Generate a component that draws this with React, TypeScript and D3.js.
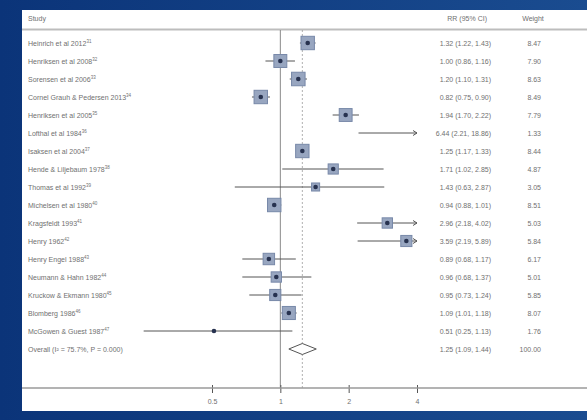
import React, { useEffect, useRef } from 'react';
import * as d3 from 'd3';

const studies = [
  'Heinrich et al 2012', 'Henriksen et al 2008', 'Sorensen et al 2006',
  'Cornel Grauh & Pedersen 2013', 'Henriksen et al 2005', 'Lofthal et al 1984',
  'Isaksen et al 2004', 'Hende & Liljebaum 1978', 'Thomas et al 1992',
  'Michelsen et al 1980', 'Kragsfeldt 1993', 'Henry 1962', 'Henry Engel 1988',
  'Neumann & Hahn 1982', 'Kruckow & Ekmann 1980', 'Blomberg 1986',
  'McGowen & Guest 1987',
];
const refs = ['31', '32', '33', '34', '35', '36', '37', '38', '39', '40', '41', '42', '43', '44', '45', '46', '47'];
const rr = [1.32, 1.0, 1.2, 0.82, 1.94, 6.44, 1.25, 1.71, 1.43, 0.94, 2.96, 3.59, 0.89, 0.96, 0.95, 1.09, 0.51];
const lower = [1.22, 0.86, 1.1, 0.75, 1.7, 2.21, 1.17, 1.02, 0.63, 0.88, 2.18, 2.19, 0.68, 0.68, 0.73, 1.01, 0.25];
const upper = [1.43, 1.16, 1.31, 0.9, 2.22, 18.86, 1.33, 2.85, 2.87, 1.01, 4.02, 5.89, 1.17, 1.37, 1.24, 1.18, 1.13];
const weights = [8.47, 7.9, 8.63, 8.49, 7.79, 1.33, 8.44, 4.87, 3.05, 8.51, 5.03, 5.84, 6.17, 5.01, 5.85, 8.07, 1.76];

const overallLabel = 'Overall (I\u00b2 = 75.7%, P = 0.000)';
const overall = { rr: 1.25, lower: 1.09, upper: 1.44 };
const ticks = [0.5, 1, 2, 4];

const W = 587;
const H = 420;

export default function App() {
  const ref = useRef<SVGSVGElement | null>(null);

  useEffect(() => {
    const svg = d3.select(ref.current);
    svg.selectAll('*').remove();

    const grad = svg.append('defs').append('linearGradient')
      .attr('id', 'bg').attr('x1', 0).attr('x2', 1).attr('y1', 0).attr('y2', 0);
    grad.append('stop').attr('offset', '0%').attr('stop-color', '#0b3479');
    grad.append('stop').attr('offset', '100%').attr('stop-color', '#1a4c90');
    svg.append('rect').attr('width', W).attr('height', H).attr('fill', 'url(#bg)');

    // white panel
    svg.append('rect').attr('x', 22).attr('y', 10).attr('width', W - 22).attr('height', 401).attr('fill', '#fff');

    const font = 'Liberation Sans, Arial, sans-serif';
    const txt = '#707070';
    const x = d3.scaleLog().domain([0.5, 4]).range([212, 417]);
    const rows = d3.range(studies.length + 1);
    const y = d3.scalePoint<number>().domain(rows).range([43, 349]);
    const size = d3.scaleSqrt().domain([0, 8.6]).range([0, 13.5]);
    const axisY = 388;
    const xMax = x.range()[1];

    // header
    const hdr = svg.append('g').attr('font-family', font).attr('font-size', 7).attr('fill', txt);
    hdr.append('text').attr('x', 28).attr('y', 21).text('Study');
    hdr.append('text').attr('x', 487).attr('y', 21).attr('text-anchor', 'end').text('RR (95% CI)');
    hdr.append('text').attr('x', 533).attr('y', 21).attr('text-anchor', 'middle').text('Weight');
    svg.append('line').attr('x1', 22).attr('x2', W).attr('y1', 29.5).attr('y2', 29.5)
      .attr('stroke', '#bdbdbd').attr('stroke-width', 2);

    // reference lines
    svg.append('line').attr('x1', x(1)).attr('x2', x(1)).attr('y1', 30).attr('y2', axisY)
      .attr('stroke', '#8a8a8a').attr('stroke-width', 1);
    svg.append('line').attr('x1', x(overall.rr)).attr('x2', x(overall.rr)).attr('y1', 30).attr('y2', axisY)
      .attr('stroke', '#9a9a9a').attr('stroke-width', 0.8).attr('stroke-dasharray', '2,2');

    // study rows
    const g = svg.append('g');
    studies.forEach((s, i) => {
      const yy = y(i) as number;
      const lab = g.append('text').attr('x', 28).attr('y', yy + 2.5)
        .attr('font-family', font).attr('font-size', 7).attr('fill', txt);
      lab.append('tspan').text(s);
      lab.append('tspan').attr('font-size', 4.5).attr('dy', -3).text(refs[i]);

      g.append('text').attr('x', 491).attr('y', yy + 2.5).attr('text-anchor', 'end')
        .attr('font-family', font).attr('font-size', 7).attr('fill', txt)
        .text(`${rr[i].toFixed(2)} (${lower[i].toFixed(2)}, ${upper[i].toFixed(2)})`);
      g.append('text').attr('x', 541).attr('y', yy + 2.5).attr('text-anchor', 'end')
        .attr('font-family', font).attr('font-size', 7).attr('fill', txt)
        .text(weights[i].toFixed(2));

      const x1 = x(lower[i]);
      const x2 = Math.min(x(upper[i]), xMax);
      g.append('line').attr('x1', x1).attr('x2', x2).attr('y1', yy).attr('y2', yy)
        .attr('stroke', '#555').attr('stroke-width', 1);
      if (upper[i] > 4) {
        g.append('path').attr('d', `M${xMax - 4},${yy - 2.5}L${xMax},${yy}L${xMax - 4},${yy + 2.5}`)
          .attr('fill', 'none').attr('stroke', '#555').attr('stroke-width', 1);
      }
      if (rr[i] <= 4) {
        const s2 = size(weights[i]);
        const cx = x(rr[i]);
        if (s2 > 7) {
          g.append('rect').attr('x', cx - s2 / 2).attr('y', yy - s2 / 2).attr('width', s2).attr('height', s2)
            .attr('fill', '#98a6c0').attr('stroke', '#7788a8').attr('stroke-width', 1);
        }
        g.append('circle').attr('cx', cx).attr('cy', yy).attr('r', 2.3).attr('fill', '#27324f');
      }
    });

    // overall row
    const oy = y(studies.length) as number;
    g.append('text').attr('x', 28).attr('y', oy + 2.5)
      .attr('font-family', font).attr('font-size', 7).attr('fill', txt).text(overallLabel);
    g.append('text').attr('x', 491).attr('y', oy + 2.5).attr('text-anchor', 'end')
      .attr('font-family', font).attr('font-size', 7).attr('fill', txt)
      .text(`${overall.rr.toFixed(2)} (${overall.lower.toFixed(2)}, ${overall.upper.toFixed(2)})`);
    g.append('text').attr('x', 541).attr('y', oy + 2.5).attr('text-anchor', 'end')
      .attr('font-family', font).attr('font-size', 7).attr('fill', txt).text('100.00');
    g.append('path')
      .attr('d', `M${x(overall.lower)},${oy}L${x(overall.rr)},${oy - 5.5}L${x(overall.upper)},${oy}L${x(overall.rr)},${oy + 5.5}Z`)
      .attr('fill', '#fff').attr('stroke', '#555').attr('stroke-width', 1);

    // axis
    const axis = svg.append('g').attr('transform', `translate(0,${axisY})`)
      .call(d3.axisBottom(x).tickValues(ticks).tickFormat(d3.format('')).tickSize(5).tickSizeOuter(0));
    axis.select('.domain').remove();
    axis.selectAll('.tick line').attr('stroke', '#555').attr('y1', -3);
    axis.selectAll('.tick text').attr('fill', txt).attr('font-family', font).attr('font-size', 7).attr('dy', '1.2em');
    svg.append('line').attr('x1', 22).attr('x2', W).attr('y1', axisY).attr('y2', axisY)
      .attr('stroke', '#9a9a9a').attr('stroke-width', 1.5);
  });

  return (
    <svg
      ref={ref}
      width={W}
      height={H}
      style={{ position: 'absolute', left: 0, top: 0, display: 'block' }}
    />
  );
}
